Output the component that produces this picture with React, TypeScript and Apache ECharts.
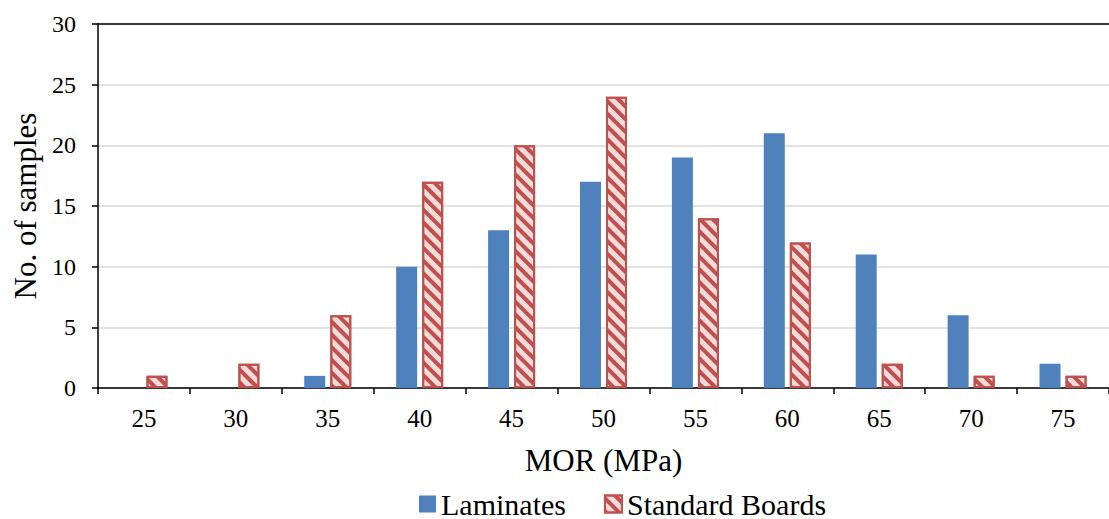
import React, { useEffect, useRef } from "react";
import * as echarts from "echarts";

// MOR bins (MPa) and sample counts per bin
const morBins = ["25", "30", "35", "40", "45", "50", "55", "60", "65", "70", "75"];
const laminates = [0, 0, 1, 10, 13, 17, 19, 21, 11, 6, 2];
const standardBoards = [1, 2, 6, 17, 20, 24, 14, 12, 2, 1, 1];

const FONT = "Times New Roman, Liberation Serif, DejaVu Serif, serif";
const BLUE = "#4f81bd";
const RED = "#c0504d";
const PINK = "#f2dcdb";

export default function App() {
  const ref = useRef<HTMLDivElement>(null);

  useEffect(() => {
    if (!ref.current) return;
    const chart = echarts.init(ref.current, undefined, { renderer: "svg" });
    chart.setOption({
      animation: false,
      backgroundColor: "#ffffff",
      textStyle: { fontFamily: FONT },
      grid: { left: 98, right: -6, top: 24, bottom: 131, containLabel: false },
      legend: {
        top: 489,
        left: 419,
        padding: 0,
        itemWidth: 17,
        itemHeight: 17,
        itemGap: 38,
        icon: "rect",
        textStyle: { fontFamily: FONT, fontSize: 30, color: "#000" },
        data: ["Laminates", "Standard Boards"],
      },
      xAxis: [
        {
          type: "category",
          data: morBins,
          name: "MOR (MPa)",
          nameLocation: "middle",
          nameGap: 57,
          nameTextStyle: { fontFamily: FONT, fontSize: 31, color: "#000" },
          axisLine: { lineStyle: { color: "#000", width: 1.5 } },
          axisTick: { show: true, interval: 0, length: 6, lineStyle: { color: "#000", width: 1.5 } },
          axisLabel: { interval: 0, margin: 18, fontFamily: FONT, fontSize: 25, color: "#000" },
        },
        {
          type: "category",
          data: morBins,
          position: "top",
          axisLine: { lineStyle: { color: "#000", width: 1.5 } },
          axisTick: { show: false },
          axisLabel: { show: false },
        },
      ],
      yAxis: {
        type: "value",
        min: 0,
        max: 30,
        interval: 5,
        name: "No. of samples",
        nameLocation: "middle",
        nameGap: 56,
        nameTextStyle: { fontFamily: FONT, fontSize: 31, color: "#000" },
        axisLine: { show: true, lineStyle: { color: "#000", width: 1.5 } },
        axisTick: { show: true, length: 6, lineStyle: { color: "#000", width: 1.5 } },
        axisLabel: { margin: 22, fontFamily: FONT, fontSize: 24, color: "#000" },
        splitLine: { lineStyle: { color: "#d9d9d9", width: 1.5 } },
      },
      series: [
        {
          name: "Laminates",
          type: "bar",
          data: laminates,
          barWidth: 21,
          barGap: "24%",
          itemStyle: { color: BLUE },
        },
        {
          name: "Standard Boards",
          type: "bar",
          data: standardBoards,
          barWidth: 21,
          itemStyle: {
            color: PINK,
            borderColor: RED,
            borderWidth: 2,
            decal: {
              symbol: "rect",
              symbolSize: 1,
              dashArrayX: [1, 0],
              dashArrayY: [4, 5],
              rotation: Math.PI / 4,
              color: RED,
            },
          },
        },
      ],
    });
    return () => chart.dispose();
  }, []);

  return (
    <div
      ref={ref}
      style={{ position: "absolute", left: 0, top: 0, width: 1109, height: 519, overflow: "hidden" }}
    />
  );
}
